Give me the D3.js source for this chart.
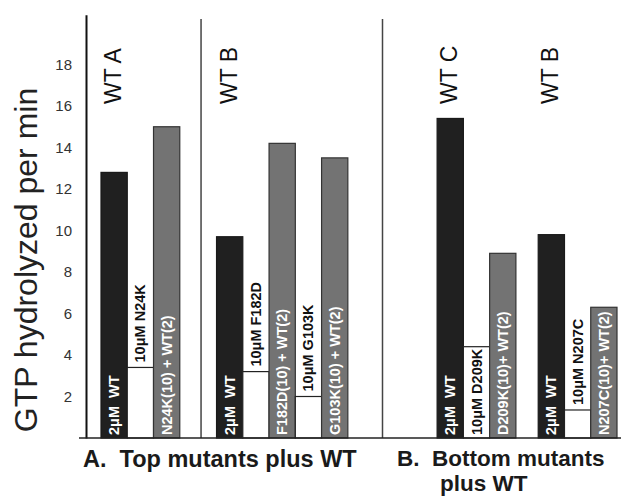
<!DOCTYPE html>
<html>
<head>
<meta charset="utf-8">
<script src="https://cdn.jsdelivr.net/npm/d3@7"></script>
<style>
  body { margin: 0; background: #fff; }
  svg text { font-family: "Liberation Sans", Arial, sans-serif; white-space: pre; }
</style>
</head>
<body>
<div id="chart"></div>
<script>
// values
var groupTitles = ["WT A", "WT B", "WT C", "WT B"];
var groupSizes = [3, 5, 3, 3];
var barLabels = ["2\u03bcM  WT", "10\u03bcM N24K", "N24K(10) + WT(2)",
                 "2\u03bcM  WT", "10\u03bcM F182D", "F182D(10) + WT(2)", "10\u03bcM G103K", "G103K(10) + WT(2)",
                 "2\u03bcM  WT", "10\u03bcM D209K", "D209K(10)+ WT(2)",
                 "2\u03bcM  WT", "10\u03bcM N207C", "N207C(10)+ WT(2)"];
var barKinds = ["wt", "mut", "mix",
                "wt", "mut", "mix", "mut", "mix",
                "wt", "mut", "mix",
                "wt", "mut", "mix"];
var barValues = [12.8, 3.4, 15.0,
                 9.7, 3.2, 14.2, 2.0, 13.5,
                 15.4, 4.4, 8.9,
                 9.8, 1.35, 6.3];
var yTicks = [2, 4, 6, 8, 10, 12, 14, 16, 18];
var panelLabels = ["A.  Top mutants plus WT", "B.  Bottom mutants", "plus WT"];
var yTitle = "GTP hydrolyzed per min";

var W = 621, H = 499;
var svg = d3.select("#chart").append("svg")
    .attr("width", W).attr("height", H);

// layout in bar-width units: gap before each group, dividers after group 0 and 1
var gapBefore = [0, 1.4, 3.4, 0.85];
var slots = [], groupStart = [], u = 0, k = 0;
groupSizes.forEach(function(n, g) {
    u += gapBefore[g];
    groupStart.push(u);
    for (var j = 0; j < n; j++) { slots.push({i: k, g: g, u: u}); u++; k++; }
});
var dividerUnits = [3.81, 10.72];

var x = d3.scaleLinear().domain([0, u]).range([101, 617]);
var y = d3.scaleLinear().domain([0, 20.4]).range([438, 14.7]);
var bw = x(1) - x(0);

var fills = {wt: "#202020", mut: "#ffffff", mix: "#737373"};
var strokes = {wt: "#1a1a1a", mut: "#222", mix: "#333"};
var textFill = {wt: "#fff", mut: "#111", mix: "#fff"};

// y axis
var yAxis = d3.axisLeft(y).tickValues(yTicks).tickSize(0).tickPadding(14);
var ax = svg.append("g").attr("transform", "translate(86,0)").call(yAxis);
ax.select(".domain").attr("stroke", "#111").attr("stroke-width", 2);
ax.selectAll("text")
    .style("font-family", "'Liberation Sans Narrow', 'Liberation Sans', Arial, sans-serif")
    .attr("font-size", 15).attr("fill", "#333");

svg.append("text")
    .attr("transform", "translate(37,260) rotate(-90)")
    .attr("text-anchor", "middle")
    .attr("font-size", 32)
    .attr("fill", "#222")
    .text(yTitle);

// dividers
svg.selectAll(".divider").data(dividerUnits).enter().append("line")
    .attr("class", "divider")
    .attr("x1", function(d) { return x(d); }).attr("x2", function(d) { return x(d); })
    .attr("y1", 19).attr("y2", y(0))
    .attr("stroke", "#444").attr("stroke-width", 1.5);

// bars
svg.selectAll(".bar").data(slots).enter().append("rect")
    .attr("class", "bar")
    .attr("x", function(d) { return x(d.u); })
    .attr("width", bw)
    .attr("y", function(d) { return y(barValues[d.i]); })
    .attr("height", function(d) { return y(0) - y(barValues[d.i]); })
    .attr("fill", function(d) { return fills[barKinds[d.i]]; })
    .attr("stroke", function(d) { return strokes[barKinds[d.i]]; })
    .attr("stroke-width", 1.2);

// baseline
svg.append("line")
    .attr("x1", 79).attr("x2", W).attr("y1", y(0)).attr("y2", y(0))
    .attr("stroke", "#222").attr("stroke-width", 1.5);

// bar labels, inside bar if it fits, else just above
svg.selectAll(".blabel").data(slots).enter().append("text")
    .attr("class", "blabel")
    .attr("font-size", 14.5)
    .attr("font-weight", "bold")
    .attr("fill", function(d) { return textFill[barKinds[d.i]]; })
    .text(function(d) { return barLabels[d.i]; })
    .each(function(d) {
        var len = this.getComputedTextLength();
        var top = y(barValues[d.i]);
        var start = (y(0) - top > len + 4) ? y(0) - 3 : top - 5;
        var cx = x(d.u) + bw / 2 + 5;
        d3.select(this).attr("transform", "translate(" + cx + "," + start + ") rotate(-90)");
    });

// group titles over first bar of each group
svg.selectAll(".gtitle").data(groupTitles).enter().append("text")
    .attr("class", "gtitle")
    .attr("transform", function(d, g) {
        return "translate(" + (x(groupStart[g]) + bw / 2 + 7) + ",104) rotate(-90)";
    })
    .attr("font-size", 23)
    .attr("fill", "#111")
    .text(function(d) { return d; });

// panel labels
svg.append("text").attr("x", 83).attr("y", 467)
    .attr("font-size", 23.5).attr("font-weight", "bold").attr("fill", "#1a1a1a")
    .text(panelLabels[0]);
svg.append("text").attr("x", 397).attr("y", 466)
    .attr("font-size", 22.5).attr("font-weight", "bold").attr("fill", "#1a1a1a")
    .text(panelLabels[1]);
svg.append("text").attr("x", 440).attr("y", 491)
    .attr("font-size", 22.5).attr("font-weight", "bold").attr("fill", "#1a1a1a")
    .text(panelLabels[2]);
</script>
</body>
</html>
